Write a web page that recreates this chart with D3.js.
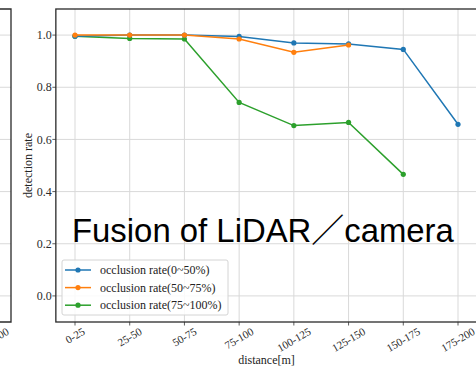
<!DOCTYPE html>
<html>
<head>
<meta charset="utf-8">
<script src="https://cdn.jsdelivr.net/npm/d3@7"></script>
<style>
  html, body { margin: 0; padding: 0; background: #fff; }
  svg { display: block; }
</style>
</head>
<body>
<svg id="chart" width="476" height="368"></svg>
<script>
// distance bins along the x axis
const distances = ["0-25", "25-50", "50-75", "75-100", "100-125", "125-150", "150-175", "175-200"];

// detection rate per occlusion band (null = no sample in that bin)
const rateLow  = [0.996, 1.000, 1.000, 0.995, 0.970, 0.966, 0.945, 0.658];
const rateMid  = [1.000, 1.000, 1.000, 0.985, 0.934, 0.962, null,  null ];
const rateHigh = [0.996, 0.987, 0.985, 0.742, 0.653, 0.665, 0.466, null ];

const seriesNames = ["occlusion rate(0~50%)", "occlusion rate(50~75%)", "occlusion rate(75~100%)"];
const seriesColors = ["#1f77b4", "#ff7f0e", "#2ca02c"];
const yTicks = [0.0, 0.2, 0.4, 0.6, 0.8, 1.0];

const series = [rateLow, rateMid, rateHigh].map((values, i) => ({
  name: seriesNames[i], color: seriesColors[i], values
}));

const svg = d3.select("#chart");
const serif = "'Liberation Serif', 'Times New Roman', serif";

const x = d3.scalePoint().domain(distances).range([75, 458]);
const step = x.step();
const left = x(distances[0]) - 0.35 * step;
const right = x(distances[distances.length - 1]) + 0.35 * step;
const y = d3.scaleLinear().domain([-0.1, 1.1]).range([322, 9]);

// --- neighbouring panel, cropped at the left edge ---
const prevRight = 11;
const prevLastTick = prevRight - 0.35 * step;
const prev = svg.append("g");
prev.selectAll("line.grid").data(yTicks).join("line")
  .attr("x1", -40).attr("x2", prevRight)
  .attr("y1", d => y(d)).attr("y2", d => y(d))
  .attr("stroke", "#d9d9d9").attr("stroke-width", 1);
prev.append("path")
  .attr("d", `M-40,${y.range()[1]}H${prevRight}V${y.range()[0]}H-40`)
  .attr("fill", "none").attr("stroke", "#2a2a2a").attr("stroke-width", 1.3);

// --- main panel ---
const g = svg.append("g");

// grid
g.selectAll("line.gy").data(yTicks).join("line")
  .attr("x1", left).attr("x2", right)
  .attr("y1", d => y(d)).attr("y2", d => y(d))
  .attr("stroke", "#d9d9d9").attr("stroke-width", 1);
g.selectAll("line.gx").data(distances).join("line")
  .attr("x1", d => x(d)).attr("x2", d => x(d))
  .attr("y1", y.range()[1]).attr("y2", y.range()[0])
  .attr("stroke", "#d9d9d9").attr("stroke-width", 1);

// y axis ticks and labels
g.selectAll("line.ty").data(yTicks).join("line")
  .attr("x1", left - 3.5).attr("x2", left)
  .attr("y1", d => y(d)).attr("y2", d => y(d))
  .attr("stroke", "#333").attr("stroke-width", 0.8);
g.selectAll("text.ty").data(yTicks).join("text")
  .attr("x", left - 4).attr("y", d => y(d)).attr("dy", "0.35em")
  .attr("text-anchor", "end")
  .attr("font-family", serif).attr("font-size", 12).attr("fill", "#2b2b2b")
  .text(d => d.toFixed(1));

// x axis ticks
g.selectAll("line.tx").data(distances).join("line")
  .attr("x1", d => x(d)).attr("x2", d => x(d))
  .attr("y1", y.range()[0]).attr("y2", y.range()[0] + 3.5)
  .attr("stroke", "#333").attr("stroke-width", 0.8);

// rotated tick labels: centred under the tick, rotated box top just below the axis
function rotatedLabel(sel, cx, label) {
  const t = sel.append("text")
    .attr("font-family", serif).attr("font-size", 11).attr("fill", "#2b2b2b")
    .attr("text-anchor", "middle").attr("dy", "0.35em")
    .text(label);
  const w = t.node().getComputedTextLength();
  const h = 8;
  const a = 30 * Math.PI / 180;
  const boxH = w * Math.sin(a) + h * Math.cos(a);
  const cy = 327 + boxH / 2;
  t.attr("transform", `translate(${cx},${cy}) rotate(-30)`);
}
distances.forEach(d => rotatedLabel(g, x(d), d));
// cropped last label of the neighbouring panel
rotatedLabel(prev, prevLastTick, distances[distances.length - 1]);

// axis titles, centred on the axes box
g.append("text")
  .attr("x", (left + right) / 2).attr("y", 364)
  .attr("text-anchor", "middle")
  .attr("font-family", serif).attr("font-size", 12).attr("fill", "#222")
  .text("distance[m]");
g.append("text")
  .attr("transform", `translate(32,${(y.range()[0] + y.range()[1]) / 2}) rotate(-90)`)
  .attr("text-anchor", "middle")
  .attr("font-family", serif).attr("font-size", 12).attr("fill", "#222")
  .text("detection rate");

// series lines and markers (the heaviest occlusion band underneath)
const line = d3.line()
  .defined(d => d.v !== null)
  .x(d => x(d.k)).y(d => y(d.v));
const drawOrder = [series[2], series[0], series[1]];
drawOrder.forEach(s => {
  const pts = s.values.map((v, i) => ({ k: distances[i], v }));
  g.append("path").datum(pts)
    .attr("d", line).attr("fill", "none")
    .attr("stroke", s.color).attr("stroke-width", 1.5);
  g.selectAll(null).data(pts.filter(p => p.v !== null)).join("circle")
    .attr("cx", p => x(p.k)).attr("cy", p => y(p.v)).attr("r", 2.6)
    .attr("fill", s.color);
});

// frame
g.append("rect")
  .attr("x", left).attr("y", y.range()[1])
  .attr("width", right - left).attr("height", y.range()[0] - y.range()[1])
  .attr("fill", "none").attr("stroke", "#2a2a2a").attr("stroke-width", 1.3);

// legend
const lg = g.append("g");
lg.append("rect")
  .attr("x", 62).attr("y", 260).attr("width", 166).attr("height", 55).attr("rx", 2)
  .attr("fill", "rgba(255,255,255,0.85)").attr("stroke", "#d4d4d4").attr("stroke-width", 1);
series.forEach((s, i) => {
  const ly = 270 + i * 17.6;
  lg.append("line").attr("x1", 65).attr("x2", 91).attr("y1", ly).attr("y2", ly)
    .attr("stroke", s.color).attr("stroke-width", 1.5);
  lg.append("circle").attr("cx", 78).attr("cy", ly).attr("r", 2.6).attr("fill", s.color);
  lg.append("text").attr("x", 100).attr("y", ly).attr("dy", "0.35em")
    .attr("font-family", serif).attr("font-size", 12).attr("fill", "#222")
    .text(s.name);
});

// overlay caption
const cap = svg.append("text")
  .attr("x", 72).attr("y", 242)
  .attr("font-family", "'Liberation Sans', 'Noto Sans CJK JP', sans-serif")
  .attr("font-size", 33).attr("fill", "#000")
  .text("Fusion of LiDAR／camera");
const capW = cap.node().getComputedTextLength();
cap.attr("font-size", 33 * 382 / capW);
</script>
</body>
</html>
